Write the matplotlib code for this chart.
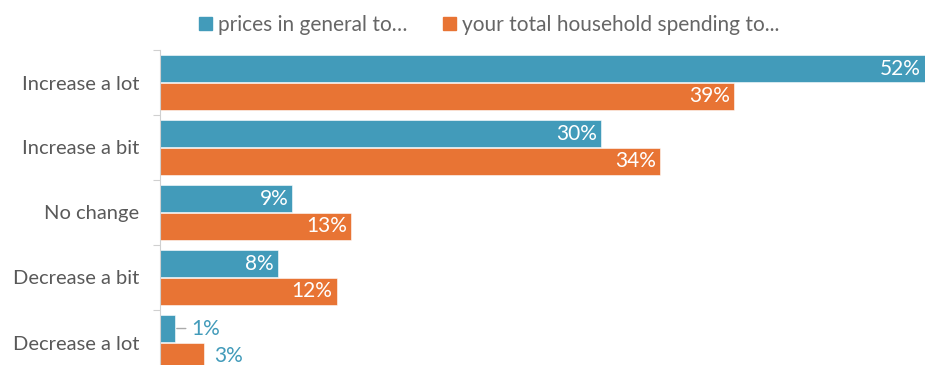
import matplotlib.pyplot as plt
import numpy as np
from matplotlib.patches import Patch

plt.rcParams['font.family'] = ['Lato', 'DejaVu Sans']

categories = ["Increase a lot", "Increase a bit", "No change", "Decrease a bit", "Decrease a lot"]
prices = [52, 30, 9, 8, 1]
spending = [39, 34, 13, 12, 3]
series_names = ["prices in general to\u2026", "your total household spending to..."]

blue = "#429bba"
orange = "#e87434"
grey_text = "#595959"

fig = plt.figure(figsize=(9.25, 3.65), dpi=100)
# axes run past the bottom edge, so the last row is cut off
ax = fig.add_axes([160 / 925, -10 / 365, 765 / 925, 325 / 365])

y = np.arange(len(categories))
h = 0.415
off = 0.215
ax.barh(y - off, prices, height=h, color=blue, edgecolor="white", linewidth=0.4)
ax.barh(y + off, spending, height=h, color=orange, edgecolor="white", linewidth=0.4)

ax.set_xlim(0, 52)
ax.set_ylim(len(categories) - 0.5, -0.5)


def label(ax, val, ypos):
    if val >= 5:
        ax.annotate(f"{val}%", (val, ypos), xytext=(-3, 0), textcoords="offset points",
                    ha="right", va="center", color="white", fontsize=15)
    elif val < 2:
        # tiny bar: label pushed out with a short leader line
        ax.annotate(f"{val}%", (val, ypos), xytext=(12, 0), textcoords="offset points",
                    ha="left", va="center", color=blue, fontsize=15)
        ax.annotate("", xy=(val, ypos), xytext=(8, 0), textcoords="offset points",
                    arrowprops=dict(arrowstyle="-", color="#aaaaaa", lw=1, shrinkA=0, shrinkB=1.5))
    else:
        ax.annotate(f"{val}%", (val, ypos), xytext=(7, 0), textcoords="offset points",
                    ha="left", va="center", color=blue, fontsize=15)


for i in range(len(categories)):
    label(ax, prices[i], y[i] - off)
    label(ax, spending[i], y[i] + off)

for s in ["top", "right", "bottom"]:
    ax.spines[s].set_visible(False)
ax.spines["left"].set_color("#d0d0d0")
ax.set_xticks([])
ax.set_yticks(np.arange(len(categories) + 1) - 0.5)
ax.set_yticklabels([])
ax.tick_params(axis="y", which="major", length=5, color="#d0d0d0")
ax.set_yticks(y, minor=True)
ax.set_yticklabels(categories, minor=True, fontsize=14.5, color=grey_text)
ax.tick_params(axis="y", which="minor", length=0, pad=15)

handles = [Patch(color=blue), Patch(color=orange)]
fig.legend(handles, series_names, loc="center", bbox_to_anchor=(0.529, 1 - 25 / 365),
           ncol=2, frameon=False, fontsize=15, labelcolor="#666666",
           handlelength=0.6, handleheight=0.6, handletextpad=0.3, columnspacing=1.7)

fig.savefig("out.png", dpi=100)
